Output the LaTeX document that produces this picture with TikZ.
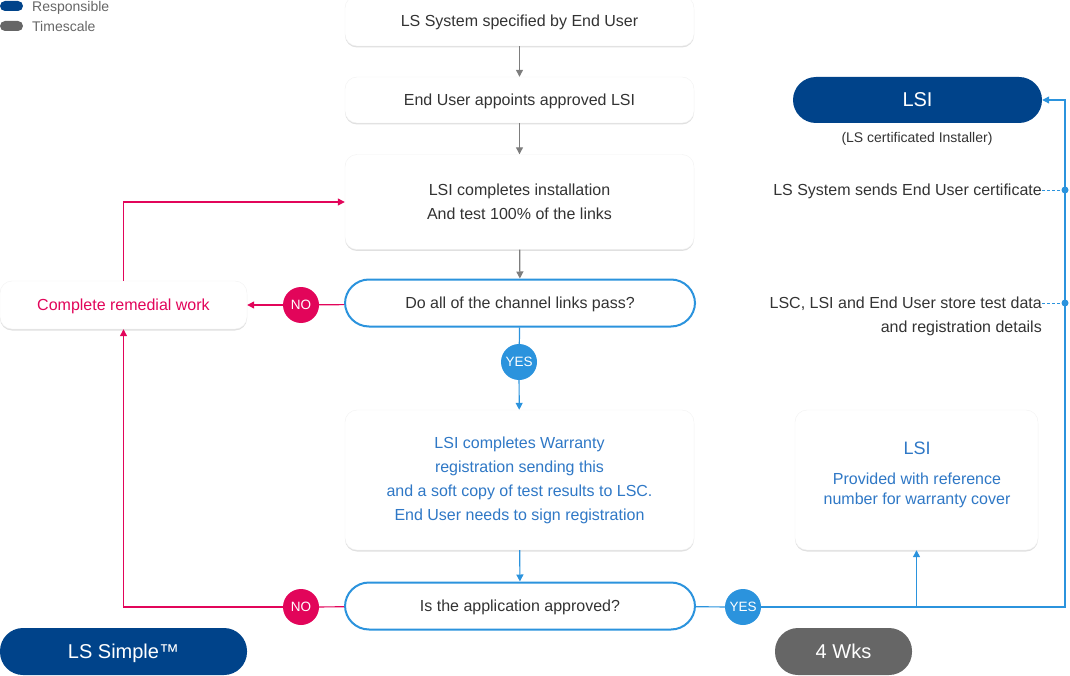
\documentclass[tikz,border=0pt]{standalone}
\usepackage{fontspec}
\setmainfont{Liberation Sans}
\usetikzlibrary{shadows,arrows.meta}
\definecolor{lsnavy}{HTML}{00438A}
\definecolor{lsblue}{HTML}{2B93DD}
\definecolor{lstext}{HTML}{2F78C6}
\definecolor{lsred}{HTML}{E2055A}
\definecolor{lsgrey}{HTML}{666666}
\definecolor{lsdark}{HTML}{333333}
\tikzset{
    stepbox/.style={fill=white,draw=black!5,rounded corners=12pt,minimum width=349pt,
        align=center,text=lsdark,inner sep=0pt,
        general shadow={fill=black!12,shadow yshift=-1.5pt}},
    oneline/.style={text depth=0pt},
    question/.style={fill=white,draw=lsblue,line width=2pt,rounded corners=24pt,
        minimum width=350pt,minimum height=47pt,text=lsdark,oneline},
    pill/.style={fill=lsnavy,rounded corners=23pt,minimum height=47pt,text=white,
        font=\fontsize{20}{24}\selectfont,oneline},
    answer/.style={circle,minimum size=36pt,inner sep=0pt,text=white,
        font=\fontsize{13.5}{15}\selectfont,oneline},
    dot/.style={circle,fill=lsblue,minimum size=7pt,inner sep=0pt},
    tip/.style={-{Triangle[width=7pt,length=7pt]}}
}
\begin{document}
\begin{tikzpicture}[x=1pt,y=-1pt,every node/.style={font=\fontsize{16}{24}\selectfont}]
    \useasboundingbox (0,0) rectangle (1070,676);

    % legend
    \node[fill=lsnavy,rounded corners=5pt,minimum width=23pt,minimum height=10pt,inner sep=0pt] (keyresp) at (11.5,6) {};
    \node[anchor=west,text=lsgrey,font=\fontsize{14}{15}\selectfont,inner sep=0pt,oneline] (keyresptext) at (32,6) {Responsible};
    \node[fill=lsgrey,rounded corners=5pt,minimum width=23pt,minimum height=10pt,inner sep=0pt] (keytime) at (11.5,26) {};
    \node[anchor=west,text=lsgrey,font=\fontsize{14}{15}\selectfont,inner sep=0pt,oneline] (keytimetext) at (32,26) {Timescale};

    % central column
    \node[stepbox,oneline,minimum height=50pt] (specified) at (519.5,21) {LS System specified by End User};
    \node[stepbox,oneline,minimum height=46pt] (appoints) at (519.5,100) {End User appoints approved LSI};
    \node[stepbox,minimum height=95pt] (install) at (519.5,202) {LSI completes installation\\And test 100\% of the links};
    \node[question] (linkspass) at (520,303) {Do all of the channel links pass?};
    \node[answer,fill=lsblue] (yesone) at (519,362) {YES};
    \node[stepbox,minimum height=140pt,text=lstext] (register) at (519.5,480) {LSI completes Warranty\\registration sending this\\and a soft copy of test results to LSC.\\End User needs to sign registration};
    \node[question] (approved) at (520,606) {Is the application approved?};

    % left column
    \node[answer,fill=lsred] (noone) at (301,305) {NO};
    \node[answer,fill=lsred] (notwo) at (301,607) {NO};
    \node[stepbox,oneline,minimum width=247pt,minimum height=48pt,text=lsred] (remedial) at (123.5,305) {Complete remedial work};
    \node[pill,minimum width=247pt] (simple) at (123.5,651.5) {LS Simple\texttrademark};

    % right column
    \node[answer,fill=lsblue] (yestwo) at (743,607) {YES};
    \node[pill,minimum width=249pt,minimum height=46pt] (lsi) at (917.5,100) {LSI};
    \node[text=lsdark,font=\fontsize{14}{15}\selectfont,oneline] (lsicaption) at (917,137) {(LS certificated Installer)};
    \node[anchor=east,inner sep=0pt,text=lsdark,oneline] (sendcert) at (1042,190) {LS System sends End User certificate};
    \node[anchor=east,inner sep=0pt,text=lsdark,align=right] (storedata) at (1042,316.5) {LSC, LSI and End User store test data\\and registration details};
    \node[dot] (dotone) at (1065,190) {};
    \node[dot] (dottwo) at (1065,303) {};
    \node[stepbox,minimum width=243pt,minimum height=140pt] (provided) at (916.5,480) {};
    \node[text=lstext,align=center,font=\fontsize{16}{20}\selectfont] (providedtext) at (917,475) {{\fontsize{18}{20}\selectfont LSI}\\[10pt]Provided with reference\\number for warranty cover};
    \node[pill,fill=lsgrey,minimum width=137pt] (weeks) at (843.5,651.5) {4 Wks};
    \coordinate (rail) at (1065,607);

    \begin{scope}[every path/.style={line width=1.2pt,lsgrey!85}]
        \draw[tip] (specified) -- (appoints);
        \draw[tip] (appoints) -- (install);
        \draw[tip] (install) -- (linkspass);
    \end{scope}

    \begin{scope}[every path/.style={line width=1.2pt,lsblue}]
        \draw (linkspass) -- (yesone);
        \draw[tip] (yesone) -- (register);
        \draw[tip] (register) -- (approved);
        \draw (approved) -- (yestwo);
        \draw[tip] (yestwo) -- (rail) |- (lsi.east);
        \draw[tip] (provided.south |- yestwo) -- (provided.south);
        \draw[dash pattern=on 3pt off 2pt,line width=0.9pt] (sendcert.east) -- (dotone);
        \draw[dash pattern=on 3pt off 2pt,line width=0.9pt] (dottwo -| storedata.east) -- (dottwo);
    \end{scope}

    \begin{scope}[every path/.style={line width=1.2pt,lsred}]
        \draw (linkspass) -- (noone);
        \draw[tip] (noone) -- (remedial);
        \draw[tip] (remedial.north) |- (install.west);
        \draw (approved) -- (notwo);
        \draw[tip] (notwo) -| (remedial.south);
    \end{scope}
\end{tikzpicture}
\end{document}
